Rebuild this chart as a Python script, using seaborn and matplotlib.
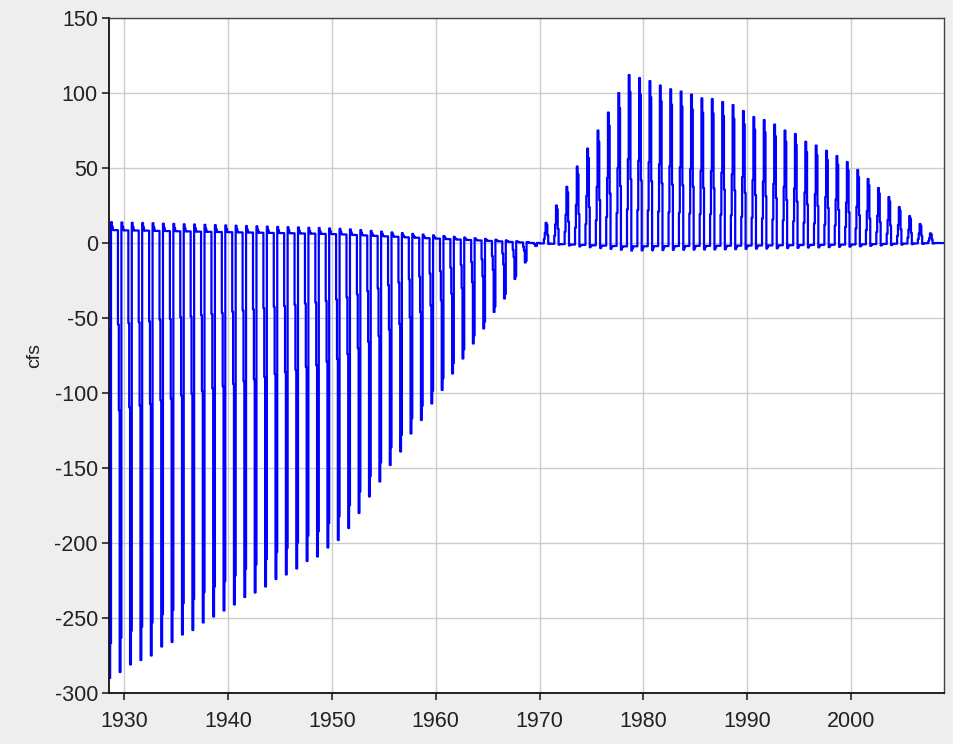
import numpy as np
import pandas as pd
import seaborn as sns
import matplotlib.pyplot as plt

# annual pulse peaks (cfs)
neg_years = list(range(1928, 1970))
neg_peaks = [-290, -286, -281, -278, -275, -269, -266, -261, -258, -253,
             -249, -245, -241, -236, -233, -229, -224, -221, -217, -212,
             -209, -203, -198, -190, -180, -169, -159, -148, -139, -127,
             -118, -107, -98, -87, -77, -67, -57, -46, -37, -24,
             -13, -2]
pos_years = list(range(1970, 2009))
pos_peaks = [13.5, 25, 37.5, 51, 63, 75, 87, 100, 112, 110,
             108, 105, 102.5, 101, 99, 96.5, 96, 94, 92, 88,
             84, 82, 79, 75, 72.7, 67.5, 65, 61.5, 58, 54,
             48.7, 42.7, 36.7, 30.7, 24, 18, 12.7, 6.5, 0]

# monthly shape of each year (Jan..Dec), as share of that year's peak
neg_shape = [-0.03, -0.03, -0.03, -0.03, -0.03, 0.19, 0.39, 1.0, 0.92, -0.048, -0.038, -0.03]
pos_shape = [-0.02, -0.02, -0.02, -0.02, -0.02, 0.2, 0.5, 1.0, 0.9, 0.38, -0.045, -0.03]

rows = []
for yr, pk in zip(neg_years, neg_peaks):
    for m, f in enumerate(neg_shape):
        rows.append((yr + m / 12, f * pk))
for yr, pk in zip(pos_years, pos_peaks):
    for m, f in enumerate(pos_shape):
        rows.append((yr + m / 12, f * pk))
df = pd.DataFrame(rows, columns=["year", "cfs"])

sns.set_style("white")
plt.rcParams["font.family"] = ["Liberation Sans", "DejaVu Sans"]
plt.rcParams["axes.unicode_minus"] = False

fig = plt.figure(figsize=(9.54, 7.44), dpi=100, facecolor="#eeeeee")
ax = fig.add_axes([0.1143, 0.0685, 0.8752, 0.9073])
ax.set_facecolor("white")

sns.lineplot(data=df, x="year", y="cfs", ax=ax, color="#0000ff", linewidth=1.6,
             drawstyle="steps-post", estimator=None)

ax.set_xlim(1928.56, 2008.93)
ax.set_ylim(-300, 150)
ax.set_xticks(range(1930, 2001, 10))
ax.set_yticks(range(-300, 151, 50))
ax.grid(True, color="#cccccc", linewidth=1.0)
ax.set_axisbelow(True)
ax.set_xlabel("")
ax.set_ylabel("cfs", fontsize=14, color="#222222", labelpad=8)
ax.tick_params(axis="both", direction="out", length=5, width=1.2, colors="#222222",
               labelsize=15.5, pad=3, left=True, bottom=True)
ax.tick_params(axis="x", pad=8)
for s in ["left", "bottom"]:
    ax.spines[s].set_color("#111111")
    ax.spines[s].set_linewidth(1.3)
for s in ["top", "right"]:
    ax.spines[s].set_color("#444444")
    ax.spines[s].set_linewidth(1.0)

fig.savefig("out.png", dpi=100, facecolor=fig.get_facecolor())
